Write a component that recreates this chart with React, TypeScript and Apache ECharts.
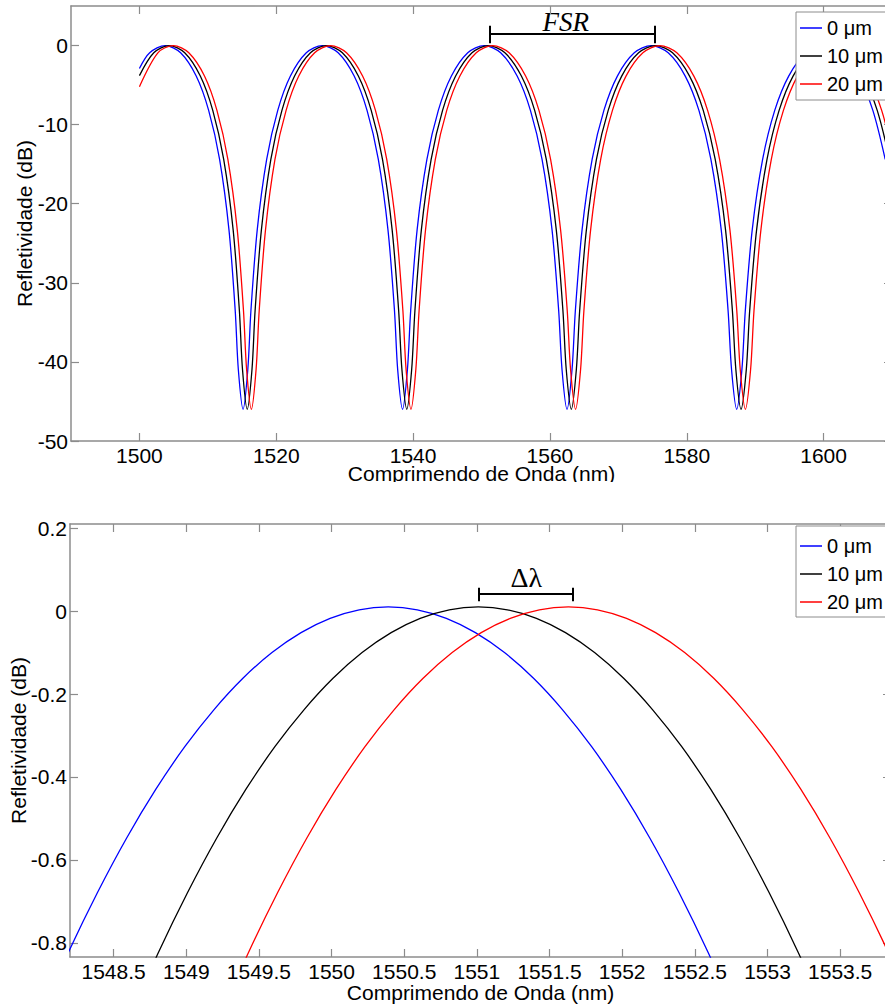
import React, { useEffect, useRef } from 'react';
import * as echarts from 'echarts';

// ---------- shared ----------
const legendNames = ['0 μm', '10 μm', '20 μm'];
const seriesColors = ['#0000ff', '#000000', '#ff0000'];

// ---------- top chart (full spectrum) ----------
const topXRange = [1490, 1610];
const topYRange = [-50, 5];
const topXTicks = [1500, 1520, 1540, 1560, 1580, 1600];
const topYTicks = [-50, -40, -30, -20, -10, 0];

const blueTop: [number, number][] = [
  [1500.0, -2.9], [1501.5, -0.92], [1503.76, 0], [1506.02, -0.92], [1508.3, -3.86], [1510.12, -8.2], [1511.72, -14.4], [1513.09, -23.3], [1514.0, -33.5], [1514.46, -41], [1515.15, -46], [1515.84, -41], [1516.3, -33.5], [1517.22, -23.3], [1518.6, -14.4], [1520.22, -8.2], [1522.07, -3.86], [1524.39, -0.92],
  [1526.72, 0], [1529.05, -0.92], [1531.39, -3.86], [1533.27, -8.2], [1534.92, -14.4], [1536.33, -23.3], [1537.28, -33.5], [1537.75, -41], [1538.46, -46], [1539.17, -41], [1539.65, -33.5], [1540.59, -23.3], [1542.02, -14.4], [1543.69, -8.2], [1545.6, -3.86], [1547.99, -0.92],
  [1550.39, 0], [1552.8, -0.92], [1555.21, -3.86], [1557.15, -8.2], [1558.85, -14.4], [1560.31, -23.3], [1561.28, -33.5], [1561.77, -41], [1562.5, -46], [1563.23, -41], [1563.72, -33.5], [1564.7, -23.3], [1566.17, -14.4], [1567.89, -8.2], [1569.86, -3.86], [1572.33, -0.92],
  [1574.8, 0], [1577.29, -0.92], [1579.78, -3.86], [1581.78, -8.2], [1583.53, -14.4], [1585.04, -23.3], [1586.04, -33.5], [1586.55, -41], [1587.3, -46], [1588.06, -41], [1588.56, -33.5], [1589.57, -23.3], [1591.09, -14.4], [1592.86, -8.2], [1594.9, -3.86], [1597.44, -0.92],
  [1600.0, 0], [1602.56, -0.92], [1605.14, -3.86], [1607.2, -8.2], [1609.01, -14.4],
];

const blackTop: [number, number][] = [
  [1500.0, -3.8], [1502.1, -0.92], [1504.36, 0], [1506.62, -0.92], [1508.9, -3.86], [1510.72, -8.2], [1512.32, -14.4], [1513.7, -23.3], [1514.61, -33.5], [1515.07, -41], [1515.76, -46], [1516.45, -41], [1516.91, -33.5], [1517.83, -23.3], [1519.21, -14.4], [1520.83, -8.2], [1522.68, -3.86], [1525.0, -0.92],
  [1527.33, 0], [1529.66, -0.92], [1532.0, -3.86], [1533.88, -8.2], [1535.53, -14.4], [1536.94, -23.3], [1537.89, -33.5], [1538.37, -41], [1539.08, -46], [1539.79, -41], [1540.27, -33.5], [1541.21, -23.3], [1542.64, -14.4], [1544.31, -8.2], [1546.22, -3.86], [1548.61, -0.92],
  [1551.01, 0], [1553.42, -0.92], [1555.83, -3.86], [1557.77, -8.2], [1559.47, -14.4], [1560.93, -23.3], [1561.9, -33.5], [1562.39, -41], [1563.13, -46], [1563.86, -41], [1564.35, -33.5], [1565.33, -23.3], [1566.8, -14.4], [1568.52, -8.2], [1570.49, -3.86], [1572.96, -0.92],
  [1575.43, 0], [1577.92, -0.92], [1580.41, -3.86], [1582.41, -8.2], [1584.16, -14.4], [1585.67, -23.3], [1586.67, -33.5], [1587.18, -41], [1587.93, -46], [1588.7, -41], [1589.2, -33.5], [1590.21, -23.3], [1591.73, -14.4], [1593.5, -8.2], [1595.54, -3.86], [1598.08, -0.92],
  [1600.64, 0], [1603.2, -0.92], [1605.78, -3.86], [1607.84, -8.2], [1609.65, -14.4],
];

const redTop: [number, number][] = [
  [1500.0, -5.2], [1502.7, -0.92], [1504.96, 0], [1507.22, -0.92], [1509.51, -3.86], [1511.33, -8.2], [1512.93, -14.4], [1514.3, -23.3], [1515.21, -33.5], [1515.67, -41], [1516.36, -46], [1517.05, -41], [1517.51, -33.5], [1518.43, -23.3], [1519.81, -14.4], [1521.44, -8.2], [1523.29, -3.86], [1525.61, -0.92],
  [1527.94, 0], [1530.27, -0.92], [1532.62, -3.86], [1534.5, -8.2], [1536.15, -14.4], [1537.56, -23.3], [1538.51, -33.5], [1538.98, -41], [1539.69, -46], [1540.4, -41], [1540.88, -33.5], [1541.82, -23.3], [1543.25, -14.4], [1544.92, -8.2], [1546.84, -3.86], [1549.23, -0.92],
  [1551.63, 0], [1554.04, -0.92], [1556.45, -3.86], [1558.4, -8.2], [1560.1, -14.4], [1561.56, -23.3], [1562.53, -33.5], [1563.02, -41], [1563.75, -46], [1564.48, -41], [1564.97, -33.5], [1565.95, -23.3], [1567.42, -14.4], [1569.14, -8.2], [1571.12, -3.86], [1573.59, -0.92],
  [1576.06, 0], [1578.55, -0.92], [1581.04, -3.86], [1583.05, -8.2], [1584.8, -14.4], [1586.31, -23.3], [1587.31, -33.5], [1587.82, -41], [1588.57, -46], [1589.33, -41], [1589.83, -33.5], [1590.84, -23.3], [1592.36, -14.4], [1594.13, -8.2], [1596.18, -3.86], [1598.72, -0.92],
  [1601.28, 0], [1603.84, -0.92], [1606.42, -3.86], [1608.49, -8.2], [1610.3, -14.4],
];

// FSR bracket: [left x, right x], line y, cap [top, bottom], label position
const fsrBracketX = [1551.17, 1575.29];
const fsrBracketY = 1.54;
const fsrCapY = [2.5, 0.3];
const fsrLabelAt = [1562.31, 2.92];

// ---------- bottom chart (zoom on one peak) ----------
const botXRange = [1548.2, 1553.85];
const botYRange = [-0.834, 0.21];
const botXTicks = [1548.5, 1549, 1549.5, 1550, 1550.5, 1551, 1551.5, 1552, 1552.5, 1553, 1553.5];
const botYTicks = [-0.8, -0.6, -0.4, -0.2, 0, 0.2];

const blueBot: [number, number][] = [
  [1547.99, -0.98], [1548.19, -0.822], [1548.39, -0.678], [1548.59, -0.547], [1548.79, -0.43], [1548.99, -0.327], [1549.19, -0.238],
  [1549.39, -0.162], [1549.59, -0.1], [1549.79, -0.0519], [1549.99, -0.0175], [1550.19, 0.0031], [1550.39, 0.01],
  [1550.59, 0.0031], [1550.79, -0.0175], [1550.99, -0.0519], [1551.19, -0.1], [1551.39, -0.162], [1551.59, -0.238],
  [1551.79, -0.327], [1551.99, -0.43], [1552.19, -0.547], [1552.39, -0.678], [1552.59, -0.822], [1552.79, -0.98],
];
const blackBot: [number, number][] = [
  [1548.61, -0.98], [1548.81, -0.822], [1549.01, -0.678], [1549.21, -0.547], [1549.41, -0.43], [1549.61, -0.327], [1549.81, -0.238],
  [1550.01, -0.162], [1550.21, -0.1], [1550.41, -0.0519], [1550.61, -0.0175], [1550.81, 0.0031], [1551.01, 0.01],
  [1551.21, 0.0031], [1551.41, -0.0175], [1551.61, -0.0519], [1551.81, -0.1], [1552.01, -0.162], [1552.21, -0.238],
  [1552.41, -0.327], [1552.61, -0.43], [1552.81, -0.547], [1553.01, -0.678], [1553.21, -0.822], [1553.41, -0.98],
];
const redBot: [number, number][] = [
  [1549.23, -0.98], [1549.43, -0.822], [1549.63, -0.678], [1549.83, -0.547], [1550.03, -0.43], [1550.23, -0.327], [1550.43, -0.238],
  [1550.63, -0.162], [1550.83, -0.1], [1551.03, -0.0519], [1551.23, -0.0175], [1551.43, 0.0031], [1551.63, 0.01],
  [1551.83, 0.0031], [1552.03, -0.0175], [1552.23, -0.0519], [1552.43, -0.1], [1552.63, -0.162], [1552.83, -0.238],
  [1553.03, -0.327], [1553.23, -0.43], [1553.43, -0.547], [1553.63, -0.678], [1553.83, -0.822], [1554.03, -0.98],
];

const dlBracketX = [1551.01, 1551.66];
const dlBracketY = 0.041;
const dlCapY = [0.056, 0.024];
const dlLabelAt = [1551.34, 0.081];

// ---------- styling ----------
const FONT = '"Liberation Sans", Arial, sans-serif';
const AXIS_COLOR = '#8c8c8c';

function xAxes(range: number[], ticks: number[], nameGap: number) {
  const common = {
    type: 'value' as const,
    min: range[0],
    max: range[1],
    splitLine: { show: false },
    axisLine: { show: true, onZero: false, lineStyle: { color: AXIS_COLOR, width: 1.5 } },
    axisTick: { show: true, inside: true, length: 8, customValues: ticks, lineStyle: { color: AXIS_COLOR, width: 1.2 } },
  };
  return [
    {
      ...common,
      position: 'bottom',
      name: 'Comprimendo de Onda (nm)',
      nameLocation: 'middle',
      nameGap,
      nameMoveOverlap: false,
      nameTextStyle: { fontSize: 21, lineHeight: 18, color: '#000', fontFamily: FONT },
      axisLabel: { customValues: ticks, margin: 5, fontSize: 21, lineHeight: 18, color: '#000', fontFamily: FONT, formatter: (v: number) => String(v) },
    },
    { ...common, position: 'top', axisLabel: { show: false } },
  ];
}

function yAxes(range: number[], ticks: number[], nameGap: number) {
  const common = {
    type: 'value' as const,
    min: range[0],
    max: range[1],
    splitLine: { show: false },
    axisLine: { show: true, onZero: false, lineStyle: { color: AXIS_COLOR, width: 1.5 } },
    axisTick: { show: true, inside: true, length: 8, customValues: ticks, lineStyle: { color: AXIS_COLOR, width: 1.2 } },
  };
  return [
    {
      ...common,
      position: 'left',
      name: 'Refletividade (dB)',
      nameLocation: 'middle',
      nameGap,
      nameMoveOverlap: false,
      nameTextStyle: { fontSize: 21, lineHeight: 18, color: '#000', fontFamily: FONT },
      axisLabel: { customValues: ticks, margin: 3, fontSize: 21, color: '#000', fontFamily: FONT, formatter: (v: number) => String(v) },
    },
    { ...common, position: 'right', axisLabel: { show: false } },
  ];
}

function legendCfg(top: number, padding: number[]) {
  return {
    orient: 'vertical',
    left: 796,
    top,
    padding,
    itemGap: 8,
    itemWidth: 22,
    itemHeight: 1.5,
    icon: 'rect',
    backgroundColor: '#fff',
    borderColor: AXIS_COLOR,
    borderWidth: 1,
    borderRadius: 0,
    selectedMode: false,
    textStyle: { fontSize: 20, color: '#000', fontFamily: FONT },
    data: legendNames,
  };
}

function bracket(xs: number[], y: number, caps: number[]) {
  return {
    silent: true,
    symbol: ['none', 'none'],
    label: { show: false },
    emphasis: { disabled: true },
    lineStyle: { color: '#000', width: 2, type: 'solid' },
    data: [
      [{ coord: [xs[0], y] }, { coord: [xs[1], y] }],
      [{ coord: [xs[0], caps[0]] }, { coord: [xs[0], caps[1]] }],
      [{ coord: [xs[1], caps[0]] }, { coord: [xs[1], caps[1]] }],
    ],
  };
}

function lineSeries(datas: [number, number][][], smooth: number, mark: any) {
  return datas.map((d, i) => ({
    type: 'line',
    name: legendNames[i],
    data: d,
    showSymbol: false,
    symbol: 'none',
    smooth,
    clip: true,
    lineStyle: { width: 1.3, color: seriesColors[i] },
    itemStyle: { color: seriesColors[i] },
    emphasis: { disabled: true },
    ...(i === 1 ? { markLine: mark } : {}),
  }));
}

const topOption: any = {
  animation: false,
  backgroundColor: '#fff',
  grid: { left: 71, top: 6, width: 821, height: 435, outerBoundsMode: 'none', containLabel: false },
  legend: legendCfg(12, [6, 4, 6, 4]),
  xAxis: xAxes(topXRange, topXTicks, 23),
  yAxis: yAxes(topYRange, topYTicks, 37.5),
  series: lineSeries([blueTop, blackTop, redTop], 0.3, bracket(fsrBracketX, fsrBracketY, fsrCapY)),
};

const botOption: any = {
  animation: false,
  backgroundColor: '#fff',
  grid: { left: 70, top: 42, width: 821, height: 433, outerBoundsMode: 'none', containLabel: false },
  legend: legendCfg(44, [10, 4, 5, 4]),
  xAxis: xAxes(botXRange, botXTicks, 26),
  yAxis: yAxes(botYRange, botYTicks, 42.5),
  series: lineSeries([blueBot, blackBot, redBot], 0.4, bracket(dlBracketX, dlBracketY, dlCapY)),
};

function labelGraphic(chart: echarts.ECharts, at: number[], text: string, font: string) {
  const p = chart.convertToPixel({ gridIndex: 0 }, at) as number[];
  return {
    graphic: [
      {
        type: 'text',
        x: p[0],
        y: p[1],
        silent: true,
        style: {
          text,
          font,
          fill: '#000',
          align: 'center',
          verticalAlign: 'middle',
          textAlign: 'center',
          textVerticalAlign: 'middle',
        },
      },
    ],
  };
}

export default function App() {
  const topRef = useRef<HTMLDivElement>(null);
  const botRef = useRef<HTMLDivElement>(null);

  useEffect(() => {
    const c1 = echarts.init(topRef.current!, undefined, { renderer: 'svg' });
    c1.setOption(topOption);
    c1.setOption(labelGraphic(c1, fsrLabelAt, 'FSR', 'italic 27px "Liberation Serif", serif'));

    const c2 = echarts.init(botRef.current!, undefined, { renderer: 'svg' });
    c2.setOption(botOption);
    c2.setOption(labelGraphic(c2, dlLabelAt, 'Δλ', '28px "Liberation Serif", serif'));

    return () => {
      c1.dispose();
      c2.dispose();
    };
  }, []);

  return (
    <div style={{ position: 'absolute', left: 0, top: 0, width: 885, height: 1004, overflow: 'hidden', background: '#fff' }}>
      <div ref={topRef} style={{ position: 'absolute', left: 0, top: 0, width: 900, height: 482 }} />
      <div ref={botRef} style={{ position: 'absolute', left: 0, top: 482, width: 900, height: 522 }} />
    </div>
  );
}
